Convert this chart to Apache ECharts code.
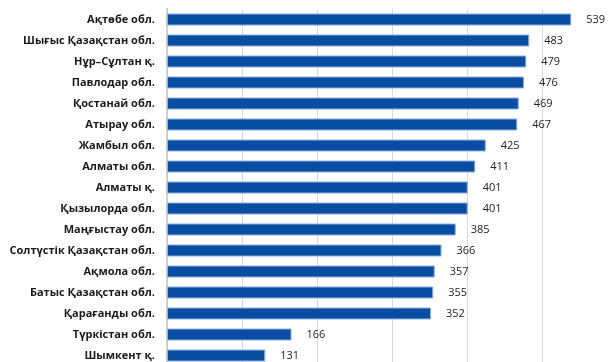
<!DOCTYPE html>
<html>
<head>
<meta charset="utf-8">
<script src="https://cdn.jsdelivr.net/npm/echarts@6/dist/echarts.min.js"></script>
<style>
  html, body { margin: 0; padding: 0; background: #fff; overflow: hidden; }
  /* the original picture is cropped on the right and bottom,
     so the canvas is a bit larger than the window */
  #chart { width: 618px; height: 366px; }
</style>
</head>
<body>
<div id="chart"></div>
<script>
const regions = [
    'Ақтөбе обл.', 'Шығыс Қазақстан обл.', 'Нұр–Сұлтан қ.', 'Павлодар обл.',
    'Қостанай обл.', 'Атырау обл.', 'Жамбыл обл.', 'Алматы обл.', 'Алматы қ.',
    'Қызылорда обл.', 'Маңғыстау обл.', 'Солтүстік Қазақстан обл.', 'Ақмола обл.',
    'Батыс Қазақстан обл.', 'Қарағанды обл.', 'Түркістан обл.', 'Шымкент қ.'
];
const values = [539, 483, 479, 476, 469, 467, 425, 411, 401, 401, 385, 366, 357, 355, 352, 166, 131];

const chart = echarts.init(document.getElementById('chart'));

chart.setOption({
    animation: false,
    textStyle: {
        fontFamily: 'Open Sans, sans-serif'
    },
    grid: {
        left: 167,
        right: 1,
        top: 9,
        bottom: 0,
        containLabel: false
    },
    xAxis: {
        type: 'value',
        min: 0,
        max: 600,
        interval: 100,
        axisLabel: { show: false },
        axisLine: { show: false },
        axisTick: { show: false },
        splitLine: {
            lineStyle: { color: '#d9d9d9', width: 1 }
        }
    },
    yAxis: {
        type: 'category',
        inverse: true,
        data: regions,
        axisTick: { show: false },
        axisLine: {
            lineStyle: { color: '#cfcfcf', width: 2 }
        },
        axisLabel: {
            margin: 12,
            fontSize: 11,
            fontWeight: 'bold',
            color: '#1a1a1a'
        }
    },
    series: [{
        type: 'bar',
        data: values,
        barWidth: 12,
        itemStyle: {
            color: '#0a4ea3',
            borderColor: '#8eb0dc',
            borderWidth: 1
        },
        label: {
            show: true,
            position: 'right',
            distance: 15,
            fontSize: 11,
            color: '#222'
        }
    }]
});
</script>
</body>
</html>
